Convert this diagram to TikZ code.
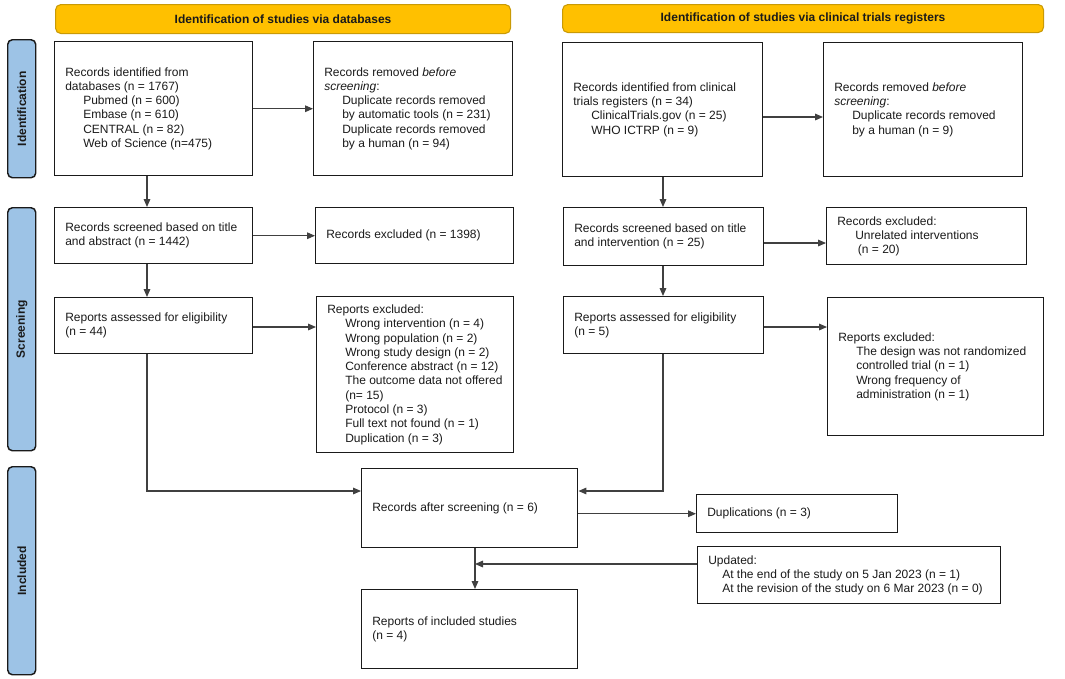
\documentclass[tikz,border=0pt]{standalone}
\usepackage{fontspec}
\setmainfont{Liberation Sans}
\usetikzlibrary{arrows.meta,calc}
\definecolor{bannerfill}{HTML}{FFC000}
\definecolor{bannerline}{HTML}{C99A06}
\definecolor{phasefill}{HTML}{9DC3E6}
\definecolor{ink}{HTML}{1A1A1A}
\definecolor{arrowc}{HTML}{404040}
\newcommand{\ind}{\hspace*{13.5pt}}
\newcommand{\indo}{\hspace*{10.5pt}}
% \bx{name}{style}{x1}{y1}{x2}{y2}
\newcommand{\bx}[6]{%
  \pgfmathsetmacro\bxw{(#5-#3)*0.75}%
  \pgfmathsetmacro\bxh{(#6-#4)*0.75}%
  \node[#2, anchor=north west, inner sep=0pt, minimum width=\bxw pt, minimum height=\bxh pt] (#1) at (#3,#4) {};}
\begin{document}
\begin{tikzpicture}[x=0.75pt,y=-0.75pt,
  font=\fontsize{9pt}{10.7pt}\selectfont,
  box/.style={draw=ink, line width=1.1pt},
  txt/.style={anchor=west, align=left, inner xsep=8.25pt, inner ysep=0pt, text=ink},
  phasebox/.style={draw=ink, fill=phasefill, line width=1.1pt, rounded corners=3.5pt},
  phasetxt/.style={rotate=90, font=\fontsize{9pt}{10.7pt}\selectfont\bfseries, text=ink},
  bannerbox/.style={draw=bannerline, fill=bannerfill, line width=0.8pt, rounded corners=4pt},
  bannertxt/.style={font=\fontsize{9pt}{10.7pt}\selectfont\bfseries, text=ink},
  arr/.style={draw=arrowc, line width=0.8pt, -{Triangle[length=6pt,width=5pt]}}]
\useasboundingbox (0,0) rectangle (1065,679);

% banners
\bx{ban1}{bannerbox}{55}{4}{510}{33}
\node[bannertxt] (ban1t) at (ban1.center) {Identification of studies via databases};
\bx{ban2}{bannerbox}{562}{4}{1043}{32}
\node[bannertxt] (ban2t) at (ban2.center) {Identification of studies via clinical trials registers};

% phase labels
\bx{ph1}{phasebox}{7}{39}{35}{177}
\node[phasetxt] (ph1t) at (ph1.center) {Identification};
\bx{ph2}{phasebox}{7}{207}{35}{450}
\node[phasetxt] (ph2t) at (ph2.center) {Screening};
\bx{ph3}{phasebox}{7}{466}{35}{674}
\node[phasetxt] (ph3t) at (ph3.center) {Included};

% boxes
\bx{A}{box}{54}{41}{252}{175}
\node[txt] (At) at (A.west) {Records identified from\\databases (n = 1767)\\\ind Pubmed (n = 600)\\\ind Embase (n = 610)\\\ind CENTRAL (n = 82)\\\ind Web of Science (n=475)};
\bx{B}{box}{313}{41}{512}{175}
\node[txt] (Bt) at (B.west) {Records removed \textit{before}\\\textit{screening}:\\\ind Duplicate records removed\\\ind by automatic tools (n = 231)\\\ind Duplicate records removed\\\ind by a human (n = 94)};
\bx{C}{box}{562}{42}{762}{176}
\node[txt] (Ct) at (C.west) {Records identified from clinical\\trials registers (n = 34)\\\ind ClinicalTrials.gov (n = 25)\\\ind WHO ICTRP (n = 9)};
\bx{D}{box}{823}{42}{1022}{176}
\node[txt] (Dt) at (D.west) {Records removed \textit{before}\\\textit{screening}:\\\ind Duplicate records removed\\\ind by a human (n = 9)};

\bx{E}{box}{54}{207}{252}{263}
\node[txt] (Et) at (E.west) {Records screened based on title\\and abstract (n = 1442)};
\bx{F}{box}{315}{207}{513}{263}
\node[txt] (Ft) at (F.west) {Records excluded (n = 1398)};
\bx{G}{box}{54}{297}{252}{353}
\node[txt] (Gt) at (G.west) {Reports assessed for eligibility\\(n = 44)};
\bx{H}{box}{316}{296}{513}{452}
\node[txt] (Ht) at (H.west) {Reports excluded:\\\ind Wrong intervention (n = 4)\\\ind Wrong population (n = 2)\\\ind Wrong study design (n = 2)\\\ind Conference abstract (n = 12)\\\ind The outcome data not offered\\\ind (n= 15)\\\ind Protocol (n = 3)\\\ind Full text not found (n = 1)\\\ind Duplication (n = 3)};

\bx{I}{box}{563}{207}{763}{265}
\node[txt] (It) at (I.west) {Records screened based on title\\and intervention (n = 25)};
\bx{J}{box}{826}{207}{1026}{264}
\node[txt] (Jt) at (J.west) {Records excluded:\\\ind Unrelated interventions\\\ind\hspace*{2pt}(n = 20)};
\bx{K}{box}{563}{296}{763}{353}
\node[txt] (Kt) at (K.west) {Reports assessed for eligibility\\(n = 5)};
\bx{L}{box}{827}{297}{1043}{435}
\node[txt] (Lt) at (L.west) {Reports excluded:\\\ind The design was not randomized\\\ind controlled trial (n = 1)\\\ind Wrong frequency of\\\ind administration (n = 1)};

\bx{M}{box}{361}{468}{577}{547}
\node[txt] (Mt) at (M.west) {Records after screening (n = 6)};
\bx{N}{box}{696}{494}{897}{532}
\node[txt] (Nt) at (N.west) {Duplications (n = 3)};
\bx{O}{box}{697}{546}{1000}{603}
\node[txt] (Ot) at (O.west) {Updated:\\\indo At the end of the study on 5 Jan 2023 (n = 1)\\\indo At the revision of the study on 6 Mar 2023 (n = 0)};
\bx{P}{box}{361}{589}{577}{668}
\node[txt] (Pt) at (P.west) {Reports of included studies\\(n = 4)};

% helper coordinates
\coordinate (xl) at (147,0);
\coordinate (xr) at (663,0);
\coordinate (xm) at (475,0);
\coordinate (y117) at (0,117);
\coordinate (y243) at (0,243);
\coordinate (y327) at (0,327);
\coordinate (y491) at (0,491);
\coordinate (y564) at (0,564);
\coordinate (jn) at (xm |- y564);

% connectors
\draw[arr] (A.east) -- (B.west);
\draw[arr] (C.east |- y117) -- (D.west |- y117);
\draw[arr] (A.south -| xl) -- (E.north -| xl);
\draw[arr] (E.east) -- (F.west);
\draw[arr] (E.south -| xl) -- (G.north -| xl);
\draw[arr] (G.east |- y327) -- (H.west |- y327);
\draw[arr] (C.south -| xr) -- (I.north -| xr);
\draw[arr] (I.east |- y243) -- (J.west |- y243);
\draw[arr] (I.south -| xr) -- (K.north -| xr);
\draw[arr] (K.east |- y327) -- (L.west |- y327);
\draw[arr] (G.south -| xl) |- (M.west |- y491);
\draw[arr] (K.south -| xr) |- (M.east |- y491);
\draw[arr] (M.east |- N.west) -- (N.west);
\draw[arr] (M.south -| xm) -- (P.north -| xm);
\draw[arr] (O.west |- y564) -- (jn);
\end{tikzpicture}
\end{document}
